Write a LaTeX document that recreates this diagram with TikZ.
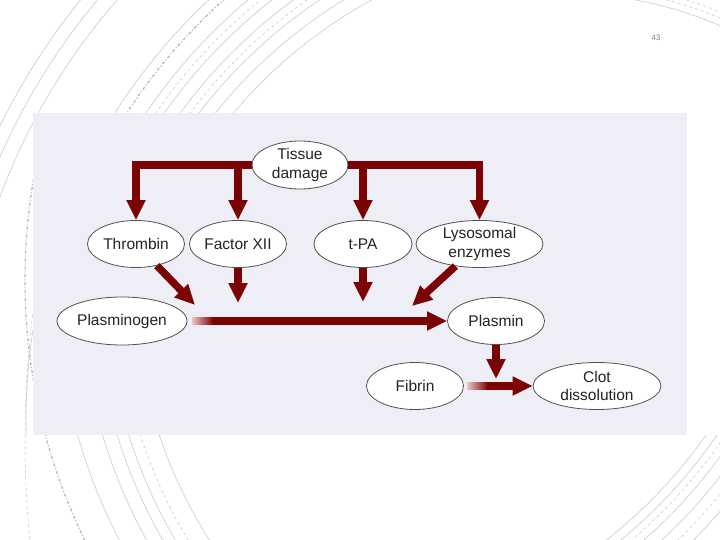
\documentclass[tikz,border=0pt]{standalone}
\usepackage{fontspec}
\setmainfont{Liberation Sans}
\usetikzlibrary{shapes.geometric,arrows.meta}
\definecolor{panel}{RGB}{238,238,246}
\definecolor{arrred}{RGB}{123,3,3}
\definecolor{arrpale}{RGB}{236,196,200}
\definecolor{edgegray}{RGB}{80,80,80}
\definecolor{txt}{RGB}{35,35,35}
\definecolor{deco}{RGB}{195,195,195}
\begin{document}
\begin{tikzpicture}[x=1pt,y=-1pt,
  ell/.style={ellipse,draw=edgegray,line width=0.8pt,fill=white,inner sep=0pt,
    font=\fontsize{15.5}{18.5}\selectfont,text=txt,align=center},
  arr/.style={draw=arrred,line width=7.5pt,line join=miter,
    -{Triangle[width=18pt,length=20pt]}},
  decoline/.style={draw=deco,line width=0.5pt},
  decodash/.style={draw=deco,line width=0.5pt,dashed},
  decothick/.style={draw=deco!80!gray,line width=1.2pt,dash pattern=on 3pt off 2pt on 1pt off 2pt}]
\useasboundingbox (0,0) rectangle (720,540);
\fill[white] (0,0) rectangle (720,540);

% decorative arcs
\begin{scope}
  \clip (0,0) rectangle (400,113) (0,113) rectangle (33,435);
  \foreach \r in {640,655,668} \draw[decoline] (600,420) circle[radius=\r pt];
  \foreach \r in {478,492,505,520,533,548,574} \draw[decoline] (600,420) circle[radius=\r pt];
  \foreach \r in {512,540} \draw[decodash] (600,420) circle[radius=\r pt];
  \draw[decothick] (600,420) circle[radius=564pt];
\end{scope}
\begin{scope}
  \clip (0,435) rectangle (300,540) (0,113) rectangle (33,435);
  \foreach \r in {564,540,526,515,486} \draw[decoline] (620,280) circle[radius=\r pt];
  \foreach \r in {504} \draw[decodash] (620,280) circle[radius=\r pt];
  \draw[decodash] (1037,440) circle[radius=1012pt];
  \draw[decothick] (620,280) circle[radius=595pt];
\end{scope}
\begin{scope}
  \clip (560,435) rectangle (720,540);
  \foreach \r in {496,505,520,532,554} \draw[decoline] (300,150) circle[radius=\r pt];
  \foreach \r in {512,543} \draw[decodash] (300,150) circle[radius=\r pt];
\end{scope}
\begin{scope}
  \clip (600,0) rectangle (720,60);
  \draw[decoline] (560,400) circle[radius=407pt];
  \draw[decodash] (560,400) circle[radius=414pt];
  \draw[decodash] (560,400) circle[radius=419.5pt];
\end{scope}

\node[font=\fontsize{8}{9}\selectfont,text=gray] (pnum) at (656,38) {43};

% panel
\fill[panel] (33,113) rectangle (687,435);

% nodes
\node[ell,minimum width=96pt,minimum height=48pt] (td) at (300,165) {Tissue\\damage};
\node[ell,minimum width=97pt,minimum height=47pt] (thr) at (136,244) {Thrombin};
\node[ell,minimum width=97pt,minimum height=47pt] (fx) at (238,244) {Factor XII};
\node[ell,minimum width=98pt,minimum height=47pt] (tpa) at (363,244) {t-PA};
\node[ell,minimum width=127pt,minimum height=47pt] (lys) at (479.5,244) {Lysosomal\\enzymes};
\node[ell,minimum width=130pt,minimum height=48pt] (pg) at (122,321) {Plasminogen};
\node[ell,minimum width=97pt,minimum height=47pt] (pl) at (496,321) {Plasmin};
\node[ell,minimum width=97pt,minimum height=47pt] (fib) at (415,386) {Fibrin};
\node[ell,minimum width=128pt,minimum height=47pt] (clot) at (597,386) {Clot\\dissolution};

% free ends
\coordinate (thrtip) at (195,305);
\coordinate (fxtip) at (238,303);
\coordinate (tpatip) at (363,302);
\coordinate (lystip) at (412,306);
\coordinate (pgs) at (192,321);
\coordinate (pgm) at (212,321);
\coordinate (pldown) at (496,379);
\coordinate (fs) at (467,386);
\coordinate (fm) at (487,386);

% arrows from tissue damage
\draw[arr] (td.west) -| (thr.north);
\draw[arr] (fx.north |- td.west) -- (fx.north);
\draw[arr] (td.east) -| (lys.north);
\draw[arr] (tpa.north |- td.east) -- (tpa.north);

% arrows to the main line
\draw[arr] (thr) -- (thrtip);
\draw[arr] (fx.south) -- (fxtip);
\draw[arr] (tpa.south) -- (tpatip);
\draw[arr] (lys) -- (lystip);

% plasminogen -> plasmin
\shade[left color=arrpale,right color=arrred] (pgs) ++(0,-3.75) rectangle ++(21,7.5);
\draw[arr] (pgm) -- (pl.west);

% plasmin down
\draw[arr] (pl.south) -- (pldown);

% fibrin -> clot dissolution
\shade[left color=arrpale,right color=arrred] (fs) ++(0,-3.75) rectangle ++(21,7.5);
\draw[arr] (fm) -- (clot.west);
\end{tikzpicture}
\end{document}
